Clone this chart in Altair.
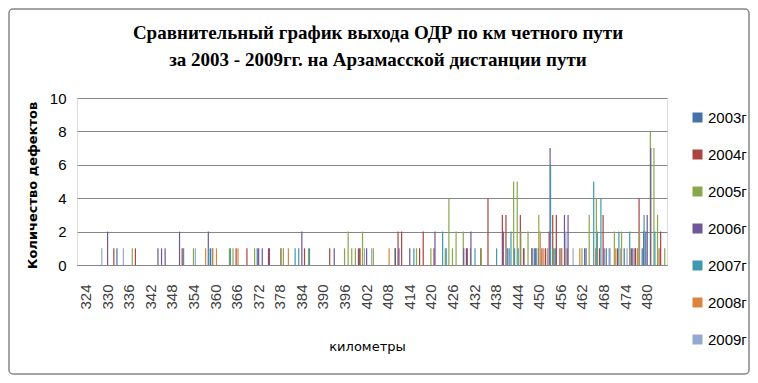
import altair as alt
import pandas as pd

km_categories = list(range(322, 486))
years = ["2003г", "2004г", "2005г", "2006г", "2007г", "2008г", "2009г"]
colors = ["#4672A8", "#A9443F", "#8AA74C", "#6F5697", "#3F98AF", "#DB843D", "#93A9D0"]
title_lines = ["Сравнительный график выхода ОДР по км четного пути",
               "за 2003 - 2009гг. на Арзамасской дистанции пути"]

km_2003 = [333, 359, 372, 442, 446, 449, 455, 463, 469, 470, 474, 476, 477, 479, 480, 484]
val_2003 = [1, 1, 1, 1, 1, 1, 1, 1, 1, 1, 1, 1, 1, 1, 2, 1]

km_2004 = [332, 338, 351, 366, 369, 375, 385, 392, 400, 411, 412, 417, 418, 421, 430, 434, 436,
           440, 441, 445, 446, 450, 451, 452, 453, 454, 455, 456, 458, 466, 467, 468, 472, 473,
           477, 478, 484]
val_2004 = [1, 1, 1, 1, 1, 1, 1, 1, 1, 2, 2, 1, 2, 1, 1, 1, 4,
            3, 3, 3, 1, 1, 1, 1, 2, 3, 3, 1, 1, 1, 1, 3, 1, 1,
            1, 4, 2]

km_2005 = [337, 354, 364, 365, 371, 379, 386, 396, 397, 398, 399, 401, 404, 410, 416, 420, 424,
           425, 426, 427, 429, 431, 434, 443, 444, 445, 447, 448, 450, 454, 462, 464, 466, 471,
           473, 478, 481, 482, 483, 485]
val_2005 = [1, 1, 1, 1, 1, 1, 1, 1, 2, 1, 1, 2, 1, 1, 1, 1, 1,
            4, 1, 2, 2, 1, 1, 5, 5, 2, 2, 1, 3, 1, 1, 3, 4, 2,
            2, 2, 8, 7, 3, 1]

km_2006 = [330, 344, 345, 346, 350, 358, 372, 373, 375, 384, 393, 400, 402, 410, 411, 414, 421,
           429, 430, 431, 440, 448, 449, 453, 457, 458, 463, 468, 476, 479, 480, 481]
val_2006 = [2, 1, 1, 1, 2, 2, 1, 1, 1, 2, 1, 1, 1, 1, 1, 1, 2,
            1, 1, 2, 2, 1, 1, 7, 3, 3, 1, 1, 1, 2, 3, 7]

km_2007 = [351, 358, 359, 364, 378, 382, 383, 386, 415, 423, 424, 432, 438, 441, 442, 443, 444,
           449, 453, 454, 456, 465, 466, 467, 472, 475, 479, 482]
val_2007 = [1, 1, 1, 1, 1, 1, 1, 1, 1, 2, 1, 1, 1, 1, 2, 1, 1,
            1, 6, 1, 1, 5, 2, 4, 2, 2, 3, 2]

km_2008 = [357, 359, 360, 366, 378, 380, 400, 408, 450, 451, 452, 456, 457, 461, 471, 475, 477, 483]
val_2008 = [1, 1, 1, 1, 1, 1, 1, 1, 2, 1, 1, 1, 1, 1, 1, 1, 1, 1]

km_2009 = [328, 334, 354, 401, 403, 452, 457, 459, 469, 474]
val_2009 = [1, 1, 1, 1, 1, 1, 2, 1, 1, 1]

series = [
    (years[0], km_2003, val_2003),
    (years[1], km_2004, val_2004),
    (years[2], km_2005, val_2005),
    (years[3], km_2006, val_2006),
    (years[4], km_2007, val_2007),
    (years[5], km_2008, val_2008),
    (years[6], km_2009, val_2009),
]
rows = []
for yr, kms, vals in series:
    for k, v in zip(kms, vals):
        rows.append({"km": k, "year": yr, "count": v})
df = pd.DataFrame(rows)

bars = alt.Chart(df).mark_bar(size=1.2).encode(
    x=alt.X(
        "km:O",
        scale=alt.Scale(domain=km_categories, paddingInner=0, paddingOuter=0),
        axis=alt.Axis(
            labelExpr="(toNumber(datum.value) - 324) % 6 == 0 ? datum.value : ''",
            labelAngle=-90,
            labelAlign="right",
            labelBaseline="middle",
            labelPadding=19,
            labelFont="Liberation Sans",
            labelFontSize=15,
            labelColor="#404040",
            ticks=False,
            domain=True,
            domainColor="#868686",
            labelOverlap=False,
            title="километры",
            titleFont="DejaVu Sans",
            titleFontSize=13,
            titleFontWeight="normal",
            titleColor="#000000",
            titleX=290,
            titleY=81,
            titleAlign="center",
            titleBaseline="middle",
        ),
    ),
    xOffset=alt.XOffset("year:N", scale=alt.Scale(domain=years, paddingInner=0, paddingOuter=0.3)),
    y=alt.Y(
        "count:Q",
        scale=alt.Scale(domain=[0, 10]),
        axis=alt.Axis(
            values=[0, 2, 4, 6, 8, 10],
            grid=True,
            gridColor="#868686",
            gridWidth=1,
            domain=False,
            ticks=False,
            labelPadding=11,
            labelFont="Liberation Sans Narrow, Liberation Sans",
            labelFontSize=15,
            labelColor="#000000",
            title="Количество дефектов",
            titleFont="DejaVu Sans",
            titleFontSize=13,
            titleFontWeight="bold",
            titleColor="#000000",
            titleAngle=270,
            titleX=-45,
            titleY=87,
            titleAlign="center",
            titleBaseline="middle",
        ),
    ),
    color=alt.Color(
        "year:N",
        scale=alt.Scale(domain=years, range=colors),
        legend=alt.Legend(
            title=None,
            orient="none",
            legendX=613,
            legendY=12,
            symbolType="square",
            symbolSize=100,
            symbolStrokeWidth=0,
            labelFont="Liberation Sans Narrow, Liberation Sans",
            labelFontSize=15,
            labelColor="#000000",
            labelOffset=3,
            rowPadding=21,
            padding=0,
        ),
    ),
)

frame = alt.Chart(pd.DataFrame({"a": [0]})).mark_rect(
    fillOpacity=0, stroke="#868686", strokeWidth=1.5, cornerRadius=4
).encode(
    x=alt.value(-68), x2=alt.value(672), y=alt.value(-89), y2=alt.value(276)
)

title1 = alt.Chart(pd.DataFrame({"a": [0]})).mark_text(
    font="Liberation Serif", fontSize=19, fontWeight="bold", color="#000000",
    align="center", baseline="middle"
).encode(x=alt.value(301), y=alt.value(-65), text=alt.value(title_lines[0]))

title2 = alt.Chart(pd.DataFrame({"a": [0]})).mark_text(
    font="Liberation Serif", fontSize=19, fontWeight="bold", color="#000000",
    align="center", baseline="middle"
).encode(x=alt.value(301), y=alt.value(-38), text=alt.value(title_lines[1]))

chart = alt.layer(frame, title1, title2, bars).properties(
    width=590,
    height=167,
    autosize=alt.AutoSizeParams(type="none"),
    padding={"left": 69, "top": 90, "right": 83, "bottom": 110},
).configure_view(stroke=None).configure(background="#ffffff")

chart.save("out.html", embed_options={"renderer": "svg", "actions": False})
